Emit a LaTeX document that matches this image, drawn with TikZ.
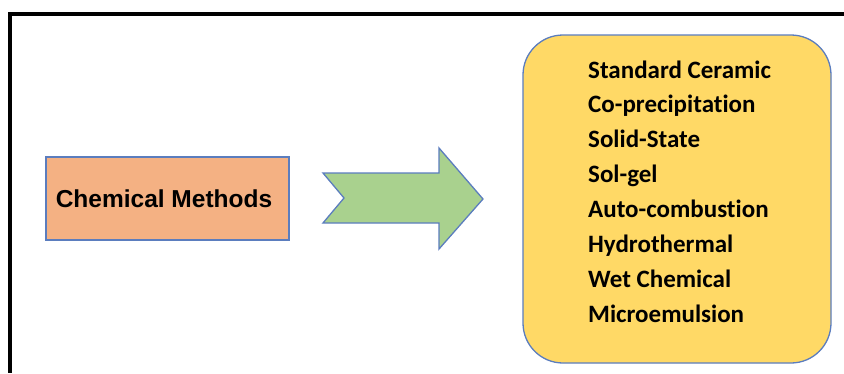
\documentclass[tikz,border=0pt]{standalone}
\usepackage{fontspec}
\setmainfont{Liberation Sans}
\newfontfamily\calib[Ligatures=NoCommon]{Carlito}
\definecolor{edgeblue}{HTML}{5B7DBE}
\definecolor{orangefill}{HTML}{F4B183}
\definecolor{greenfill}{HTML}{A9D18E}
\definecolor{yellowfill}{HTML}{FFD966}
\tikzset{
  sourcebox/.style={draw=edgeblue, line width=1.3pt, fill=orangefill,
    minimum width=243pt, minimum height=83pt, inner sep=0pt},
  sourcetext/.style={inner sep=0pt, font=\fontsize{24.5}{28}\selectfont\bfseries},
  methodlist/.style={draw=edgeblue, line width=1.3pt, fill=yellowfill,
    rounded corners=40pt},
  blockarrow/.style={draw=edgeblue, line width=1.3pt, fill=greenfill, line join=miter},
  methodtext/.style={anchor=base west, inner sep=0pt,
    font=\calib\fontsize{25}{30}\selectfont\bfseries}
}
\begin{document}
\begin{tikzpicture}[x=1pt,y=-1pt]
  \useasboundingbox (0,0) rectangle (844,373);
  % outer frame (top and left edges)
  \draw[line width=4pt, line join=miter] (844,14) -- (10,14) -- (10,373);

  % source box and its label
  \node[sourcebox] (cm) at (167.5,198.5) {};
  \node[sourcetext] (cmtext) at (164,199) {Chemical Methods};

  % notched block arrow
  \draw[blockarrow] (323,173) -- (439,173) -- (439,148) -- (483,199)
    -- (439,249) -- (439,223) -- (323,223) -- (344,198) -- cycle;

  % list of methods
  \draw[methodlist] (523,35) rectangle (831,363);
  \foreach \t [count=\i] in {Standard Ceramic, Co-precipitation, Solid-State,
      Sol-gel, Auto-combustion, Hydrothermal, Wet Chemical, Microemulsion}
    \node[methodtext] (m\i) at (588, {78+34.86*(\i-1)}) {\t};
\end{tikzpicture}
\end{document}
